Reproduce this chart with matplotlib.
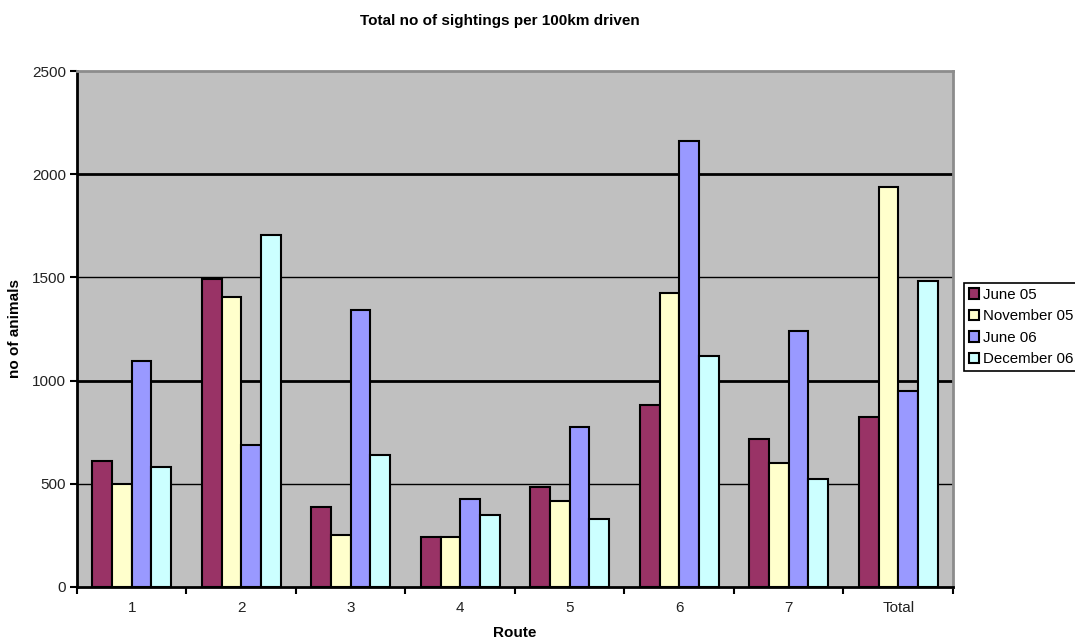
import matplotlib
matplotlib.use("Agg")
import matplotlib.pyplot as plt
from matplotlib.patches import Patch
import numpy as np

plt.rcParams['font.family'] = ['Liberation Sans', 'DejaVu Sans']

routes = ["1", "2", "3", "4", "5", "6", "7", "Total"]
series_names = ["June 05", "November 05", "June 06", "December 06"]
june05 = [610, 1492, 388, 244, 485, 882, 717, 824]
nov05 = [500, 1406, 252, 244, 417, 1424, 601, 1939]
june06 = [1096, 688, 1344, 426, 775, 2161, 1240, 950]
dec06 = [581, 1705, 640, 347, 330, 1119, 523, 1484]
colors = ["#993366", "#FFFFCC", "#9999FF", "#CCFFFF"]
yticks = [0, 500, 1000, 1500, 2000, 2500]

series = [june05, nov05, june06, dec06]

fig = plt.figure(figsize=(10.75, 6.42), dpi=100)
ax = fig.add_axes([0.0716, 0.0857, 0.8149, 0.8037])
ax.set_facecolor("#C0C0C0")

n = len(routes)
centers = np.arange(n) + 0.5
bw = 0.18
for k, (vals, col) in enumerate(zip(series, colors)):
    offs = (k - 1.5) * bw
    ax.bar(centers + offs, vals, width=bw, color=col, edgecolor="black",
           linewidth=1.5, zorder=3)

# gridlines: heavier at the thousands
for v in yticks[1:-1]:
    lw = 2.0 if v % 1000 == 0 else 1.0
    ax.axhline(v, color="black", linewidth=lw, zorder=1)

ax.set_xlim(0, n)
ax.set_ylim(0, 2500)

ax.set_xticks(np.arange(n + 1))
ax.set_xticklabels([])
ax.set_xticks(centers, minor=True)
ax.set_xticklabels(routes, minor=True)
ax.tick_params(axis="x", which="major", direction="out", length=5, width=1.5, color="black")
ax.tick_params(axis="x", which="minor", length=0, pad=10, labelsize=11, labelcolor="#222222")

ax.set_yticks(yticks)
ax.set_yticklabels([str(v) for v in yticks])
ax.tick_params(axis="y", direction="out", length=5, width=1.5, pad=3,
               labelsize=11, labelcolor="#222222")

for side in ["left", "bottom"]:
    ax.spines[side].set_color("black")
    ax.spines[side].set_linewidth(2)
for side in ["top", "right"]:
    ax.spines[side].set_color("#8c8c8c")
    ax.spines[side].set_linewidth(2)

ax.set_xlabel("Route", fontsize=11, fontweight="bold", labelpad=8)
ax.set_ylabel("no of animals", fontsize=11, fontweight="bold", labelpad=7)
fig.text(0.465, 0.968, "Total no of sightings per 100km driven",
         ha="center", va="center", fontsize=11, fontweight="bold")

handles = [Patch(facecolor=c, edgecolor="black", linewidth=1.5, label=s)
           for c, s in zip(colors, series_names)]
leg = fig.legend(handles=handles, loc="upper left", bbox_to_anchor=(0.897, 0.559),
                 bbox_transform=fig.transFigure, borderaxespad=0, fontsize=10.8,
                 handlelength=0.7, handleheight=0.7, handletextpad=0.25,
                 labelspacing=0.5, borderpad=0.3, fancybox=False, framealpha=1)
leg.get_frame().set_edgecolor("black")
leg.get_frame().set_linewidth(1.2)

fig.savefig("out.png", dpi=100)
